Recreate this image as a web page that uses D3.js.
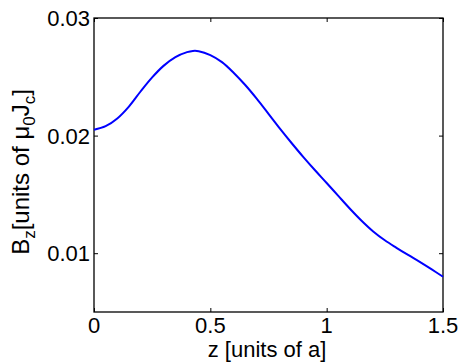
<!DOCTYPE html>
<html>
<head>
<meta charset="utf-8">
<script src="https://cdn.jsdelivr.net/npm/d3@7"></script>
<style>
  body { margin: 0; background: #fff; }
  svg text { font-family: "Liberation Sans", Arial, sans-serif; fill: #000; }
</style>
</head>
<body>
<svg id="chart" width="461" height="362"></svg>
<script>
// curve
const zVals = [0, 0.05, 0.1, 0.15, 0.2, 0.25, 0.3, 0.35, 0.4, 0.425, 0.45, 0.5, 0.55, 0.6, 0.65,
  0.7, 0.75, 0.8, 0.85, 0.9, 0.95, 1.0, 1.05, 1.1, 1.15, 1.2, 1.25, 1.3, 1.35, 1.4, 1.45, 1.5];
const bzVals = [0.0205, 0.0208, 0.02146, 0.02247, 0.02375, 0.02495, 0.02595, 0.02668, 0.0271, 0.0272, 0.02718,
  0.02685, 0.02625, 0.02535, 0.0243, 0.02312, 0.02185, 0.02057, 0.01935, 0.01817, 0.01705, 0.01597, 0.01487,
  0.01378, 0.01276, 0.01185, 0.01110, 0.01046, 0.00985, 0.00926, 0.00864, 0.0080];
const xTicks = [0, 0.5, 1, 1.5];
const xTickLabels = ["0", "0.5", "1", "1.5"];
const yTicks = [0.01, 0.02, 0.03];
const yTickLabels = ["0.01", "0.02", "0.03"];

const svg = d3.select('#chart');
const mLeft = 94, mRight = 443, mTop = 18, mBottom = 312;

const x = d3.scaleLinear().domain([0, 1.5]).range([mLeft, mRight]);
const y = d3.scaleLinear().domain([0.005, 0.03]).range([mBottom, mTop]);

const fontSize = 22;
const labelSize = 22;
const tickLen = 4;

// axes with inward ticks, labels drawn separately
const xAxis = d3.axisBottom(x).tickValues(xTicks).tickSize(-tickLen).tickFormat('');
const yAxis = d3.axisLeft(y).tickValues(yTicks).tickSize(-tickLen).tickFormat('');
const xAxisTop = d3.axisTop(x).tickValues(xTicks).tickSize(-tickLen).tickFormat('');
const yAxisRight = d3.axisRight(y).tickValues(yTicks).tickSize(-tickLen).tickFormat('');

[[xAxis, `translate(0,${mBottom})`], [yAxis, `translate(${mLeft},0)`],
 [xAxisTop, `translate(0,${mTop})`], [yAxisRight, `translate(${mRight},0)`]].forEach(([ax, tr]) => {
  const g = svg.append('g').attr('transform', tr).call(ax);
  g.select('.domain').remove();
  g.selectAll('line').attr('stroke', '#000').attr('stroke-width', 1);
});

// frame
svg.append('rect')
  .attr('x', mLeft).attr('y', mTop)
  .attr('width', mRight - mLeft).attr('height', mBottom - mTop)
  .attr('fill', 'none').attr('stroke', '#000').attr('stroke-width', 1.3);

// tick labels
svg.append('g').selectAll('text').data(xTicks).join('text')
  .attr('x', d => x(d)).attr('y', mBottom + 21)
  .attr('text-anchor', 'middle').attr('font-size', fontSize)
  .text((d, i) => xTickLabels[i]);

svg.append('g').selectAll('text').data(yTicks).join('text')
  .attr('x', mLeft - 4).attr('y', d => y(d) + 8)
  .attr('text-anchor', 'end').attr('font-size', fontSize)
  .text((d, i) => yTickLabels[i]);

// curve
const pts = zVals.map((z, i) => [z, bzVals[i]]);
svg.append('path')
  .datum(pts)
  .attr('fill', 'none').attr('stroke', '#0000ff').attr('stroke-width', 2)
  .attr('d', d3.line().x(d => x(d[0])).y(d => y(d[1])).curve(d3.curveCatmullRom));

// axis titles
svg.append('text')
  .attr('x', 267).attr('y', 357)
  .attr('text-anchor', 'middle').attr('font-size', labelSize)
  .text('z [units of a]');

const subSize = 17;
const yl = svg.append('text')
  .attr('transform', `translate(29,172) rotate(-90)`)
  .attr('text-anchor', 'middle').attr('font-size', 24);
yl.append('tspan').text('B');
yl.append('tspan').attr('font-size', subSize).attr('dy', 6).text('z');
yl.append('tspan').attr('dy', -6).text('[units of μ');
yl.append('tspan').attr('font-size', subSize).attr('dy', 6).text('0');
yl.append('tspan').attr('dy', -6).text('J');
yl.append('tspan').attr('font-size', subSize).attr('dy', 6).text('c');
yl.append('tspan').attr('dy', -6).text(']');
</script>
</body>
</html>
